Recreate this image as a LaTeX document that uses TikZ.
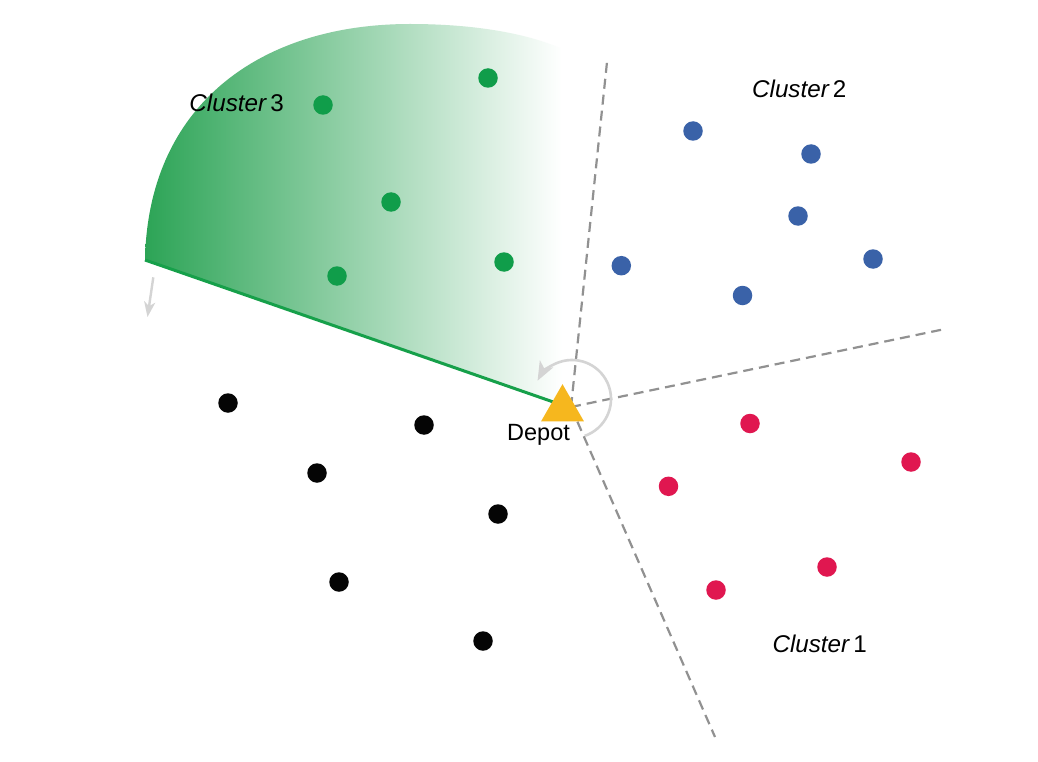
\documentclass[tikz,border=0pt]{standalone}
\usepackage{fontspec}
\setmainfont{Liberation Sans}
\usetikzlibrary{arrows.meta,shapes.geometric,calc}
\definecolor{cgreen}{RGB}{16,157,74}
\definecolor{cgreenline}{RGB}{22,160,74}
\definecolor{cshadeL}{RGB}{44,164,86}
\definecolor{cshadeM}{RGB}{165,210,176}
\definecolor{cblue}{RGB}{58,98,168}
\definecolor{cred}{RGB}{224,23,80}
\definecolor{cblack}{RGB}{5,5,5}
\definecolor{camber}{RGB}{246,183,30}
\definecolor{cdash}{RGB}{145,145,145}
\definecolor{carrow}{RGB}{212,212,212}
\tikzset{
  dot/.style={circle,inner sep=0pt,minimum size=19.5pt,draw=none},
  gdot/.style={dot,fill=cgreen},
  bdot/.style={dot,fill=cblue},
  rdot/.style={dot,fill=cred},
  kdot/.style={dot,fill=cblack},
  sepline/.style={draw=cdash,line width=2.2pt,dash pattern=on 10pt off 6pt},
  grayarrow/.style={draw=carrow,line width=2.4pt,-{Stealth[length=15pt,width=11pt,inset=4pt]}},
  bigarrow/.style={draw=carrow,line width=2.6pt,-{Stealth[length=19pt,width=15pt,inset=5pt]}},
  lbl/.style={font=\fontsize{23.5}{27}\selectfont,inner sep=0pt,anchor=base,text=black},
  clbl/.style={font=\fontsize{24.2}{28}\selectfont,inner sep=0pt,anchor=base,text=black},
  depotshape/.style={regular polygon,regular polygon sides=3,minimum size=49.6pt,inner sep=0pt,outer sep=0pt,fill=camber,draw=none}
}
\begin{document}
\begin{tikzpicture}[x=1pt,y=-1pt]
\useasboundingbox[fill=white] (0,0) rectangle (1038,762);
% shaded sector of cluster 3
\shade[left color=cshadeL,middle color=cshadeM,right color=white]
  (562,405) -- (145,260) .. controls (148,105) and (260,24) .. (410,24)
  .. controls (480,24) and (530,35) .. (560,48) -- cycle;
% coordinates
\coordinate (c) at (571,407);
\coordinate (up) at (607,62);
\coordinate (rt) at (945,329);
\coordinate (dn) at (715,737);
\coordinate (sw) at (145,260);
\coordinate (dc) at (562,405);
% separating dashed lines
\draw[sepline] (c) -- (up);
\draw[sepline] (c) -- (rt);
\draw[sepline] (c) -- (dn);
% green sweep line
\draw[cgreenline,line width=3pt] (dc) -- (sw);
% gray arrows
\coordinate (a1) at (153.3,277.3);
\coordinate (a2) at (147.5,317);
\draw[grayarrow] (a1) -- (a2);
\coordinate (ac) at (572,399);
\draw[bigarrow] ($(ac)+(71:39)$) arc[start angle=71,end angle=-152,radius=39];
% cluster 3 (green)
\node[gdot] (g1) at (323,105) {};
\node[gdot] (g2) at (488,78) {};
\node[gdot] (g3) at (391,202) {};
\node[gdot] (g4) at (337,276) {};
\node[gdot] (g5) at (504,262) {};
% cluster 2 (blue)
\node[bdot] (b1) at (693,131) {};
\node[bdot] (b2) at (811,154) {};
\node[bdot] (b3) at (798,216) {};
\node[bdot] (b4) at (873,259) {};
\node[bdot] (b5) at (621.3,265.7) {};
\node[bdot] (b6) at (742.5,295.5) {};
% cluster 1 (red)
\node[rdot] (r1) at (750,423.5) {};
\node[rdot] (r2) at (911,462) {};
\node[rdot] (r3) at (668.5,486.3) {};
\node[rdot] (r4) at (827,567) {};
\node[rdot] (r5) at (716,590) {};
% unassigned (black)
\node[kdot] (k1) at (228,403) {};
\node[kdot] (k2) at (424,425) {};
\node[kdot] (k3) at (317,473) {};
\node[kdot] (k4) at (498,514) {};
\node[kdot] (k5) at (339,582) {};
\node[kdot] (k6) at (483,641) {};
% depot
\node[depotshape] (depot) at (562.5,409) {};
\node[lbl] (depotlbl) at (538.5,440) {Depot};
% cluster labels
\node[clbl] (l3) at (236.6,112) {\itshape Cluster\hspace{0.17em}\upshape 3};
\node[clbl] (l2) at (799.3,97.7) {\itshape Cluster\hspace{0.17em}\upshape 2};
\node[clbl] (l1) at (819.7,652.7) {\itshape Cluster\hspace{0.17em}\upshape 1};
\end{tikzpicture}
\end{document}
